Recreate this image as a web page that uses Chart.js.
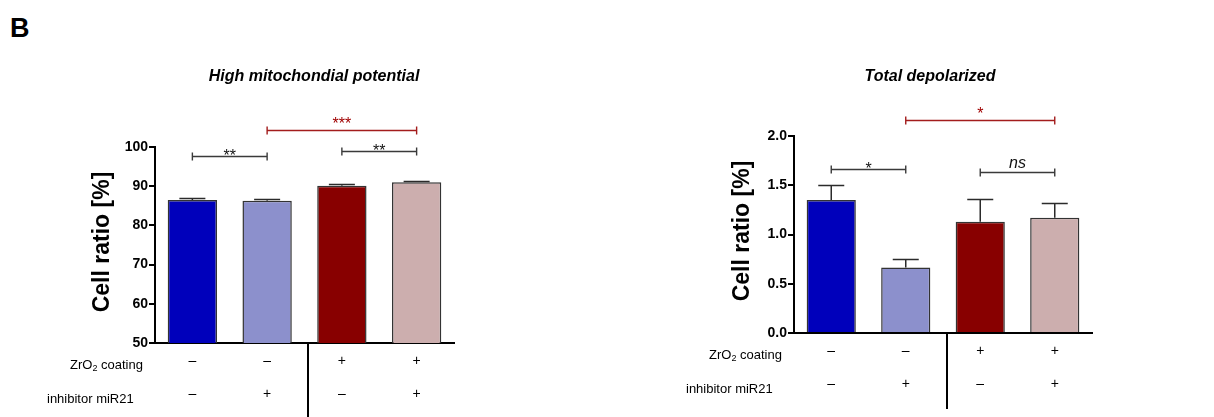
<!DOCTYPE html>
<html>
<head>
<meta charset="utf-8">
<title>Cell ratio - panel B</title>
<script src="https://cdn.jsdelivr.net/npm/chart.js@4/dist/chart.umd.min.js"></script>
<style>
  body { margin: 0; background: #fff; width: 1214px; height: 417px; overflow: hidden; position: relative;
         font-family: 'Liberation Sans', Arial, sans-serif; }
  #panel { position: absolute; left: 10px; top: 15px; font-weight: bold; font-size: 27px; line-height: 1; }
  .box { position: absolute; top: 0; width: 607px; height: 417px; }
</style>
</head>
<body>
<div id="panel">B</div>
<div class="box" style="left:0"><canvas id="high" width="607" height="417"></canvas></div>
<div class="box" style="left:607px"><canvas id="depol" width="607" height="417"></canvas></div>
<script>
// groups: coating -/-/+/+ , inhibitor -/+/-/+
const groups = ['ctrl', 'inhibitor', 'ZrO2', 'ZrO2 + inhibitor'];
const coatingRow = ['–', '–', '+', '+'];
const inhibitorRow = ['–', '+', '–', '+'];
const barColors = ['#0000bb', '#8c90cc', '#880000', '#ccaeae'];

// High mitochondial potential
const highMean = [86.5, 86.3, 90.1, 91.0];
const highErr = [0.5, 0.5, 0.5, 0.4];
const highSig = [
  { from: 0, to: 1, y: 97.6, text: '**' },
  { from: 2, to: 3, y: 99.0, text: '**' },
  { from: 1, to: 3, y: 104.3, text: '***', red: true }
];

// Total depolarized
const depolMean = [1.35, 0.665, 1.13, 1.17];
const depolErr = [0.15, 0.09, 0.23, 0.145];
const depolSig = [
  { from: 0, to: 1, y: 1.67, text: '*' },
  { from: 2, to: 3, y: 1.63, text: 'ns', italic: true },
  { from: 1, to: 3, y: 2.16, text: '*', red: true }
];

const FONT = "'Liberation Sans', Arial, sans-serif";

const decor = {
  id: 'decor',
  afterDatasetsDraw(chart) {
    const d = chart.options.plugins.decor;
    const ctx = chart.ctx, xs = chart.scales.x, ys = chart.scales.y, area = chart.chartArea;
    const means = chart.data.datasets[0].data;
    ctx.save();

    // error bars (upper only)
    ctx.strokeStyle = '#2b2b2b';
    ctx.lineWidth = 1.5;
    means.forEach((m, i) => {
      const cx = xs.getPixelForValue(i);
      const y0 = ys.getPixelForValue(m);
      const y1 = Math.round(ys.getPixelForValue(m + d.errors[i])) + 0.5;
      ctx.beginPath();
      ctx.moveTo(cx, y0); ctx.lineTo(cx, y1);
      ctx.moveTo(cx - 13, y1); ctx.lineTo(cx + 13, y1);
      ctx.stroke();
    });

    // significance brackets
    d.brackets.forEach(b => {
      const x1 = xs.getPixelForValue(b.from), x2 = xs.getPixelForValue(b.to);
      const yy = Math.round(ys.getPixelForValue(b.y)) + 0.5;
      ctx.strokeStyle = b.red ? '#a31c1c' : '#3a3a3a';
      ctx.lineWidth = 1.4;
      ctx.beginPath();
      ctx.moveTo(x1, yy); ctx.lineTo(x2, yy);
      ctx.moveTo(x1, yy - 4); ctx.lineTo(x1, yy + 4);
      ctx.moveTo(x2, yy - 4); ctx.lineTo(x2, yy + 4);
      ctx.stroke();
      ctx.fillStyle = b.red ? '#a00000' : '#111';
      ctx.textAlign = 'center';
      ctx.textBaseline = 'alphabetic';
      if (b.italic) {
        ctx.font = 'italic 16px ' + FONT;
        ctx.fillText(b.text, (x1 + x2) / 2, yy - 5);
      } else {
        ctx.font = '16px ' + FONT;
        ctx.fillText(b.text, (x1 + x2) / 2, yy + (b.red ? -2 : 4));
      }
    });

    // titles
    ctx.fillStyle = '#000';
    ctx.font = 'italic bold 16px ' + FONT;
    ctx.textAlign = 'center';
    ctx.textBaseline = 'middle';
    ctx.fillText(d.title, d.titleX, 77);

    ctx.save();
    ctx.translate(d.yTitleX, d.yTitleY);
    ctx.rotate(-Math.PI / 2);
    ctx.font = 'bold 23px ' + FONT;
    ctx.fillText('Cell ratio [%]', 0, 0);
    ctx.restore();

    // treatment table
    const b = area.bottom;
    ctx.font = '13px ' + FONT;
    ctx.textAlign = 'left';
    ctx.fillText('ZrO', area.left - 85, b + 22);
    const w = ctx.measureText('ZrO').width;
    ctx.font = '9px ' + FONT;
    ctx.fillText('2', area.left - 85 + w, b + 26);
    ctx.font = '13px ' + FONT;
    ctx.fillText(' coating', area.left - 85 + w + 5, b + 22);
    ctx.fillText('inhibitor miR21', area.left - 108, b + 56);

    ctx.font = '14px ' + FONT;
    ctx.textAlign = 'center';
    groups.forEach((g, i) => {
      const cx = xs.getPixelForValue(i);
      ctx.fillText(coatingRow[i], cx, b + 18);
      ctx.fillText(inhibitorRow[i], cx, b + 51);
    });

    // divider between uncoated / coated groups
    const dx = Math.round(xs.getPixelForValue(1.55));
    ctx.strokeStyle = '#000';
    ctx.lineWidth = 2;
    ctx.beginPath();
    ctx.moveTo(dx, b); ctx.lineTo(dx, d.dividerEnd);
    ctx.stroke();

    ctx.restore();
  }
};

function makeChart(id, means, yMin, yMax, step, digits, deco, axisLeft, axisRight) {
  return new Chart(document.getElementById(id), {
    type: 'bar',
    data: {
      labels: groups,
      datasets: [{
        data: means,
        backgroundColor: barColors,
        borderColor: '#333',
        borderWidth: 1.5,
        categoryPercentage: 1,
        barPercentage: 0.66
      }]
    },
    options: {
      responsive: false,
      animation: false,
      events: [],
      layout: { padding: { top: deco.top, right: 607 - axisRight, bottom: 0, left: 0 } },
      plugins: { legend: { display: false }, tooltip: { enabled: false }, decor: deco },
      scales: {
        x: {
          ticks: { display: false },
          grid: { display: false },
          border: { color: '#000', width: 2 },
          afterFit: s => { s.height = 417 - deco.bottom; }
        },
        y: {
          min: yMin, max: yMax,
          ticks: {
            stepSize: step, padding: 1, color: '#000',
            font: { family: FONT, size: 14, weight: 'bold' },
            callback: v => v.toFixed(digits)
          },
          grid: { drawOnChartArea: false, tickLength: 6, color: '#000', lineWidth: 2 },
          border: { color: '#000', width: 2 },
          afterFit: s => { s.width = axisLeft; }
        }
      }
    },
    plugins: [decor]
  });
}

makeChart('high', highMean, 50, 100, 10, 0, {
  title: 'High mitochondial potential', titleX: 314, yTitleX: 103, yTitleY: 242,
  errors: highErr, brackets: highSig, dividerEnd: 417, top: 147, bottom: 343
}, 155, 454);

makeChart('depol', depolMean, 0, 2, 0.5, 1, {
  title: 'Total depolarized', titleX: 323, yTitleX: 136, yTitleY: 231,
  errors: depolErr, brackets: depolSig, dividerEnd: 409, top: 136, bottom: 333
}, 187, 485);
</script>
</body>
</html>
